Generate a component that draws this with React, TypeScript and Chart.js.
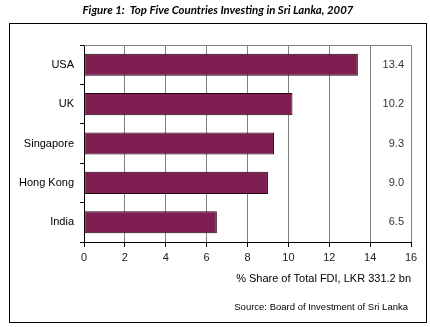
import React, { useEffect, useRef } from "react";
import { Chart, registerables } from "chart.js";

Chart.register(...registerables);

const countries = ["USA", "UK", "Singapore", "Hong Kong", "India"];
const shares = [13.4, 10.2, 9.3, 9.0, 6.5];
const shareLabels = ["13.4", "10.2", "9.3", "9.0", "6.5"];
const chartTitle = "Figure 1:  Top Five Countries Investing in Sri Lanka, 2007";
const axisTitle = "% Share of Total FDI, LKR 331.2 bn";
const sourceText = "Source: Board of Investment of Sri Lanka";

const FONT = "'Liberation Sans', Arial, sans-serif";

const decorPlugin = {
  id: "decor",
  beforeDraw(chart: any) {
    const { ctx, width, height } = chart;
    ctx.save();
    ctx.fillStyle = "#fff";
    ctx.fillRect(0, 0, width, height);
    ctx.restore();
  },
  afterDraw(chart: any) {
    const { ctx, chartArea } = chart;
    const y = chart.scales.y;
    ctx.save();
    // outer frame
    ctx.strokeStyle = "#000";
    ctx.lineWidth = 1;
    ctx.strokeRect(9.5, 23.5, 417, 299);
    // plot top border
    ctx.strokeStyle = "#808080";
    ctx.beginPath();
    ctx.moveTo(chartArea.left, Math.round(chartArea.top) + 0.5);
    ctx.lineTo(chartArea.right, Math.round(chartArea.top) + 0.5);
    ctx.stroke();
    // title
    ctx.fillStyle = "#000";
    ctx.font = "italic bold 11.4px Lato, 'Open Sans', sans-serif";
    ctx.textAlign = "center";
    ctx.textBaseline = "middle";
    ctx.fillText(chartTitle, 218, 10);
    // value labels
    ctx.font = "11px " + FONT;
    ctx.fillStyle = "#333";
    ctx.textAlign = "right";
    shareLabels.forEach((t, i) => {
      ctx.fillText(t, 404, y.getPixelForValue(i));
    });
    // source
    ctx.font = "9.5px " + FONT;
    ctx.fillStyle = "#000";
    ctx.fillText(sourceText, 408, 307);
    ctx.restore();
  },
};

export default function App() {
  const ref = useRef<HTMLCanvasElement>(null);
  useEffect(() => {
    if (!ref.current) return;
    const chart = new Chart(ref.current, {
      type: "bar",
      data: {
        labels: countries,
        datasets: [
          {
            data: shares,
            backgroundColor: "#7f1e50",
            borderColor: "#1e0410",
            borderWidth: 1,
            borderSkipped: false,
            barPercentage: 0.56,
            categoryPercentage: 1,
          },
        ],
      },
      plugins: [decorPlugin],
      options: {
        indexAxis: "y",
        animation: false,
        responsive: false,
        maintainAspectRatio: false,
        layout: { padding: { left: 9, right: 19, top: 45, bottom: 0 } },
        plugins: {
          legend: { display: false },
          tooltip: { enabled: false },
          title: { display: false },
        },
        scales: {
          x: {
            min: 0,
            max: 16,
            ticks: {
              stepSize: 2,
              padding: 4,
              color: "#222",
              font: { family: FONT, size: 11 },
            },
            grid: {
              color: "#808080",
              tickColor: "#000",
              tickLength: 5,
              drawOnChartArea: true,
            },
            border: { color: "#000", width: 1 },
            title: {
              display: true,
              text: axisTitle,
              align: "end",
              color: "#000",
              font: { family: FONT, size: 11 },
              padding: { top: 0, bottom: 41 },
            },
            afterFit(axis: any) {
              axis.height = 85;
            },
          },
          y: {
            ticks: {
              padding: 6,
              color: "#000",
              font: { family: FONT, size: 11 },
            },
            grid: {
              offset: true,
              drawOnChartArea: false,
              color: "#000",
              tickLength: 4,
            },
            border: { color: "#000", width: 1 },
            afterFit(axis: any) {
              axis.width = 75;
            },
          },
        },
      },
    });
    return () => chart.destroy();
  }, []);
  return (
    <div style={{ position: "fixed", left: 0, top: 0, width: 430, height: 327, background: "#fff" }}>
      <canvas ref={ref} width={430} height={327} style={{ display: "block", width: 430, height: 327 }} />
    </div>
  );
}
